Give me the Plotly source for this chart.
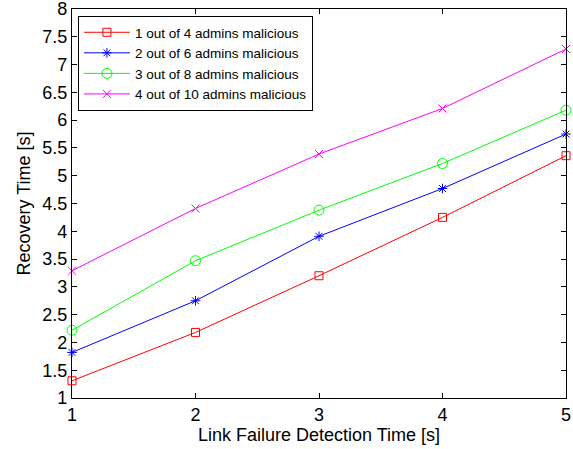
import plotly.graph_objects as go

x_vals = [1, 2, 3, 4, 5]
names = ["1 out of 4 admins malicious", "2 out of 6 admins malicious",
         "3 out of 8 admins malicious", "4 out of 10 admins malicious"]
red_vals = [1.31, 2.18, 3.20, 4.25, 5.36]
blue_vals = [1.82, 2.75, 3.91, 4.77, 5.75]
green_vals = [2.22, 3.47, 4.38, 5.22, 6.18]
magenta_vals = [3.29, 4.41, 5.39, 6.21, 7.28]
y_ticks = [1, 1.5, 2, 2.5, 3, 3.5, 4, 4.5, 5, 5.5, 6, 6.5, 7, 7.5, 8]
y_ticktext = ["1", "1.5", "2", "2.5", "3", "3.5", "4", "4.5", "5", "5.5", "6", "6.5", "7", "7.5", "8"]

series = [
    (names[0], red_vals, "#ff0000", "square-open", 8),
    (names[1], blue_vals, "#0000ff", "asterisk-open", 8),
    (names[2], green_vals, "#00ff00", "circle-open", 10),
    (names[3], magenta_vals, "#ff00ff", "x-thin-open", 8),
]

fig = go.Figure()
for name, vals, color, sym, size in series:
    fig.add_trace(go.Scatter(
        x=x_vals, y=vals, name=name, mode="lines+markers",
        line=dict(color=color, width=1),
        marker=dict(symbol=sym, size=size, color=color, line=dict(color=color, width=1)),
        cliponaxis=False,
    ))

font = "Liberation Sans, Arial, Helvetica, sans-serif"
axis_common = dict(
    showline=True, linecolor="#000000", linewidth=1.3, mirror="ticks",
    ticks="inside", ticklen=5, tickcolor="#000000", tickwidth=1,
    showgrid=False, zeroline=False, tickfont=dict(size=18),
    layer="above traces", ticklabeloverflow="allow",
)
fig.update_layout(
    template="none",
    width=573, height=449,
    margin=dict(l=72, r=7, t=9, b=51),
    paper_bgcolor="white", plot_bgcolor="white",
    font=dict(family=font, size=18, color="black"),
    showlegend=True,
    legend=dict(
        x=0.012, y=0.982, xanchor="left", yanchor="top",
        bgcolor="white", bordercolor="black", borderwidth=1,
        font=dict(family=font, size=13.5, color="black"),
        tracegroupgap=0, itemwidth=46,
    ),
    xaxis=dict(
        range=[1, 5], tickvals=x_vals,
        title=dict(text="Link Failure Detection Time [s]", standoff=4, font=dict(size=18)),
        **axis_common,
    ),
    yaxis=dict(
        range=[1, 8], tickvals=y_ticks, ticktext=y_ticktext,
        title=dict(text="Recovery Time [s]", standoff=6, font=dict(size=18)),
        **axis_common,
    ),
)

fig.write_html(
    "out.html",
    config={"displayModeBar": False},
    post_script="document.body.style.margin='0';document.body.style.overflow='hidden';",
)
